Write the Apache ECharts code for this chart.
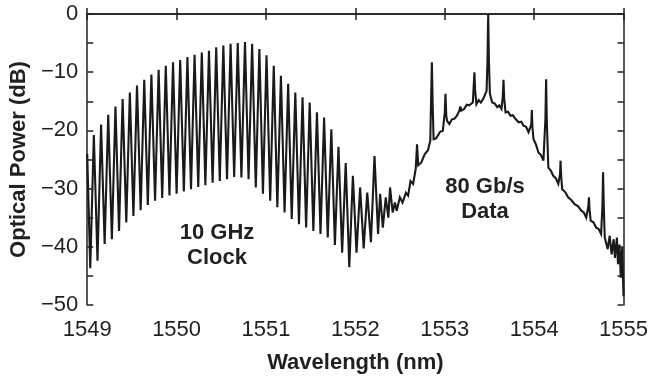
<!DOCTYPE html>
<html><head><meta charset="utf-8">
<script src="https://cdn.jsdelivr.net/npm/echarts@6/dist/echarts.min.js"></script>
<style>html,body{margin:0;padding:0;background:#fff}#c{width:651px;height:381px}</style>
</head><body><div id="c"></div>
<script>
// x axis tick values (nm) and y axis range (dB)
const xTicks = [1549, 1550, 1551, 1552, 1553, 1554, 1555];
const yTicks = [0, -10, -20, -30, -40, -50];

// 10 GHz clock comb: alternating trough / peak
const clockWl = [1549.000, 1549.034, 1549.074, 1549.115, 1549.155, 1549.195, 1549.235, 1549.276, 1549.316, 1549.356,
  1549.396, 1549.437, 1549.477, 1549.517, 1549.557, 1549.598, 1549.638, 1549.678, 1549.718, 1549.759,
  1549.799, 1549.839, 1549.879, 1549.920, 1549.960, 1550.000, 1550.040, 1550.081, 1550.121, 1550.161,
  1550.201, 1550.242, 1550.282, 1550.322, 1550.362, 1550.403, 1550.443, 1550.483, 1550.523, 1550.564,
  1550.604, 1550.644, 1550.684, 1550.725, 1550.765, 1550.805, 1550.845, 1550.886, 1550.926, 1550.966,
  1551.006, 1551.047, 1551.087, 1551.127, 1551.167, 1551.208, 1551.248, 1551.288, 1551.328, 1551.369,
  1551.409, 1551.449, 1551.489, 1551.530, 1551.570, 1551.610, 1551.650, 1551.691, 1551.731, 1551.771,
  1551.811, 1551.852, 1551.892, 1551.932, 1551.972, 1552.013, 1552.053, 1552.093, 1552.133, 1552.174,
  1552.214, 1552.254];
const clockDb = [-24.0, -43.7, -20.8, -42.4, -19.0, -39.5, -17.3, -38.7, -15.9, -37.3,
  -14.6, -35.8, -13.5, -34.7, -12.3, -33.7, -11.3, -32.8, -10.4, -32.1,
  -9.6, -31.6, -8.9, -31.2, -8.3, -30.9, -7.9, -30.5, -7.4, -30.1,
  -7.0, -29.7, -6.6, -29.4, -6.3, -29.0, -5.7, -28.7, -5.4, -28.4,
  -5.1, -28.0, -5.0, -28.1, -4.8, -28.4, -5.1, -29.8, -6.0, -30.9,
  -7.1, -32.1, -8.9, -33.2, -10.6, -34.1, -12.0, -35.2, -13.5, -36.1,
  -14.3, -36.7, -15.2, -37.3, -16.9, -37.8, -17.8, -38.4, -19.8, -39.7,
  -22.8, -41.0, -25.6, -43.5, -27.8, -41.0, -29.8, -40.3, -30.7, -39.2,
  -24.4, -37.8];

// 80 Gb/s data spectrum with its tones
const dataWl = [1552.277, 1552.307, 1552.340, 1552.369, 1552.388, 1552.417, 1552.443, 1552.462, 1552.498, 1552.528,
  1552.565, 1552.590, 1552.617, 1552.646, 1552.675, 1552.690, 1552.703, 1552.738, 1552.775, 1552.812,
  1552.838, 1552.848, 1552.856, 1552.864, 1552.875, 1552.900, 1552.922, 1552.950, 1552.978, 1553.000,
  1553.008, 1553.017, 1553.027, 1553.052, 1553.080, 1553.107, 1553.135, 1553.163, 1553.174, 1553.185,
  1553.218, 1553.245, 1553.273, 1553.314, 1553.325, 1553.332, 1553.339, 1553.354, 1553.380, 1553.403,
  1553.430, 1553.450, 1553.468, 1553.478, 1553.486, 1553.494, 1553.505, 1553.531, 1553.560, 1553.587,
  1553.610, 1553.635, 1553.650, 1553.657, 1553.665, 1553.680, 1553.708, 1553.735, 1553.762, 1553.790,
  1553.827, 1553.855, 1553.882, 1553.910, 1553.937, 1553.968, 1553.974, 1553.981, 1553.993, 1554.020,
  1554.048, 1554.075, 1554.104, 1554.126, 1554.134, 1554.141, 1554.159, 1554.186, 1554.214, 1554.242,
  1554.270, 1554.290, 1554.295, 1554.303, 1554.314, 1554.347, 1554.380, 1554.418, 1554.455, 1554.490,
  1554.528, 1554.555, 1554.583, 1554.607, 1554.613, 1554.619, 1554.632, 1554.663, 1554.694, 1554.720,
  1554.749, 1554.764, 1554.771, 1554.779, 1554.790, 1554.823, 1554.845, 1554.867, 1554.890, 1554.904,
  1554.926, 1554.938, 1554.955, 1554.969, 1554.985, 1555.000];
const dataDb = [-30.9, -36.7, -31.5, -35.0, -29.8, -34.1, -32.4, -33.8, -31.5, -32.4,
  -30.7, -31.2, -28.7, -29.2, -26.6, -22.4, -26.0, -25.5, -24.1, -23.4,
  -21.8, -14.0, -8.3, -15.0, -21.5, -21.4, -20.9, -20.2, -20.1, -17.0,
  -13.7, -17.5, -18.4, -18.9, -18.1, -18.0, -17.5, -16.6, -15.9, -16.6,
  -16.3, -15.6, -15.7, -15.2, -12.0, -10.0, -13.0, -15.5, -14.8, -15.2,
  -14.6, -14.6, -13.2, -8.0, 0.0, -8.0, -13.7, -15.2, -15.4, -16.0,
  -15.7, -16.3, -14.0, -11.3, -14.5, -16.9, -16.8, -17.5, -17.4, -18.0,
  -18.6, -18.5, -19.2, -19.4, -20.3, -19.0, -16.5, -19.5, -21.5, -22.4,
  -23.8, -24.2, -25.2, -18.0, -11.2, -18.0, -26.4, -26.9, -27.8, -28.2,
  -29.2, -27.5, -25.2, -28.0, -30.1, -30.6, -31.5, -32.0, -32.7, -33.0,
  -33.8, -34.1, -35.0, -33.0, -31.5, -33.5, -35.5, -35.8, -36.7, -36.9,
  -37.8, -33.0, -27.2, -33.0, -38.4, -40.4, -38.1, -41.3, -38.7, -41.9,
  -38.4, -43.0, -39.6, -45.3, -40.1, -48.5];

const INK = '#231f20';
const FONT = 'Liberation Sans, Arial, Helvetica, sans-serif';

const spectrum = clockWl.map((w, i) => [w, clockDb[i]])
  .concat(dataWl.map((w, i) => [w, dataDb[i]]));

const chart = echarts.init(document.getElementById('c'), null, {renderer: 'canvas'});
const lineStyle = {color: INK, width: 1.5};
const tick = {show: true, inside: true, length: 6, lineStyle: {color: INK, width: 1.5}};
chart.setOption({
  animation: false,
  backgroundColor: '#fff',
  textStyle: {fontFamily: FONT, color: INK},
  grid: {left: 84, top: 14, right: 25, bottom: 76, containLabel: false},
  xAxis: [{
    type: 'value', min: xTicks[0], max: xTicks[xTicks.length - 1], interval: 1,
    position: 'bottom',
    axisLine: {show: true, lineStyle}, axisTick: tick, splitLine: {show: false},
    axisLabel: {color: INK, fontSize: 22, fontFamily: FONT, margin: 14, formatter: v => String(v)},
    name: 'Wavelength (nm)', nameLocation: 'middle', nameGap: 47,
    nameTextStyle: {color: INK, fontSize: 22, fontWeight: 'bold', fontFamily: FONT}
  }, {
    type: 'value', min: xTicks[0], max: xTicks[xTicks.length - 1], interval: 1,
    position: 'top',
    axisLine: {show: true, lineStyle}, axisTick: tick, splitLine: {show: false},
    axisLabel: {show: false}
  }],
  yAxis: [{
    type: 'value', min: yTicks[yTicks.length - 1], max: yTicks[0], interval: 5,
    position: 'left',
    axisLine: {show: true, lineStyle}, axisTick: tick, splitLine: {show: false},
    axisLabel: {color: INK, fontSize: 22, fontFamily: FONT, margin: 9,
      formatter: v => (yTicks.indexOf(v) >= 0 ? String(v).replace('-', '\u2212') : '')},
    name: 'Optical Power (dB)', nameLocation: 'middle', nameGap: 55, nameRotate: 90,
    nameTextStyle: {color: INK, fontSize: 22, fontWeight: 'bold', fontFamily: FONT}
  }, {
    type: 'value', min: yTicks[yTicks.length - 1], max: yTicks[0], interval: 5,
    position: 'right',
    axisLine: {show: true, lineStyle}, axisTick: tick, splitLine: {show: false},
    axisLabel: {show: false}
  }],
  series: [{
    type: 'line', xAxisIndex: 0, yAxisIndex: 0, data: spectrum,
    showSymbol: false, symbol: 'none', smooth: false,
    lineStyle: {color: '#1a1a1a', width: 2.1, join: 'miter', miterLimit: 4}, clip: true
  }],
  graphic: [
    {type: 'text', x: 217, y: 245, style: {text: '10 GHz\nClock', align: 'center', verticalAlign: 'middle', font: 'bold 22px ' + FONT, fill: INK, lineHeight: 25}},
    {type: 'text', x: 485, y: 199, style: {text: '80 Gb/s\nData', align: 'center', verticalAlign: 'middle', font: 'bold 22px ' + FONT, fill: INK, lineHeight: 25}}
  ]
});
</script>
</body></html>
